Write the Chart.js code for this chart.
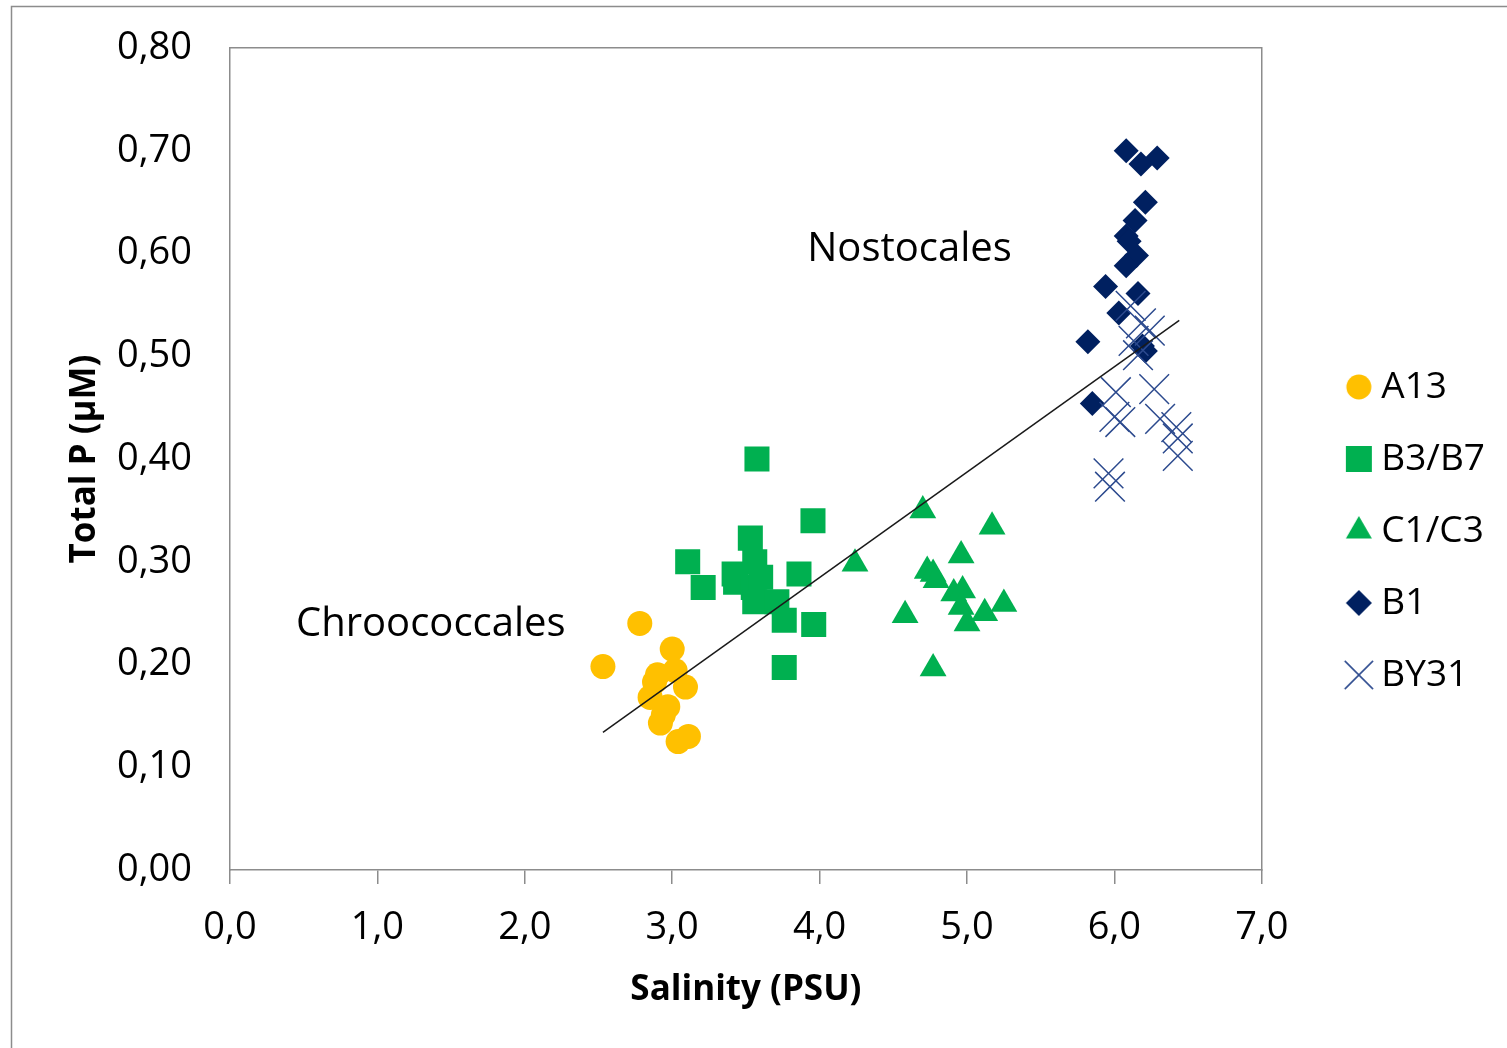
<!DOCTYPE html>
<html>
<head>
<meta charset="utf-8">
<script src="https://cdn.jsdelivr.net/npm/chart.js@4.4.1/dist/chart.umd.min.js"></script>
<style>
  html, body { margin: 0; padding: 0; background: #fff; overflow: hidden; }
  #wrap { width: 1507px; height: 1048px; position: relative; }
</style>
</head>
<body>
<div id="wrap"><canvas id="chart"></canvas></div>
<script>
// --- DATA ---
const A13_X = [2.53, 2.78, 3.00, 2.90, 3.02, 3.09, 2.85, 2.97, 2.94, 2.92, 3.04, 3.11, 2.88];
const A13_Y = [0.198, 0.240, 0.215, 0.190, 0.194, 0.178, 0.168, 0.159, 0.151, 0.143, 0.125, 0.130, 0.183];

const B37_X = [3.575, 3.955, 3.53, 3.105, 3.56, 3.21, 3.42, 3.43, 3.86, 3.55, 3.56, 3.71, 3.76, 3.96, 3.76, 3.60];
const B37_Y = [0.400, 0.340, 0.323, 0.300, 0.300, 0.275, 0.288, 0.280, 0.288, 0.275, 0.261, 0.261, 0.243, 0.239, 0.197, 0.285];

const C13_X = [4.70, 5.17, 4.24, 4.96, 4.73, 4.77, 4.79, 4.91, 4.97, 4.96, 5.25, 5.12, 4.58, 5.00, 4.77];
const C13_Y = [0.350, 0.334, 0.298, 0.306, 0.291, 0.288, 0.282, 0.269, 0.272, 0.256, 0.259, 0.250, 0.248, 0.240, 0.196];

const B1_X = [6.08, 6.29, 6.18, 6.21, 6.14, 6.08, 6.10, 6.15, 6.08, 5.94, 6.16, 6.03, 5.82, 6.19, 5.85, 6.21];
const B1_Y = [0.700, 0.693, 0.687, 0.650, 0.632, 0.617, 0.612, 0.598, 0.588, 0.568, 0.561, 0.542, 0.514, 0.510, 0.454, 0.505];

const BY31_X = [6.11, 6.18, 6.24, 6.13, 6.16, 6.27, 6.01, 6.00, 6.04, 6.31, 6.42, 6.43, 5.96, 5.97, 6.43];
const BY31_Y = [0.549, 0.532, 0.525, 0.515, 0.501, 0.468, 0.465, 0.441, 0.436, 0.439, 0.431, 0.403, 0.386, 0.373, 0.420];

const TREND_X = [2.53, 6.44];
const TREND_Y = [0.134, 0.535];

const SERIES_NAMES = ['A13', 'B3/B7', 'C1/C3', 'B1', 'BY31'];

const GROUP_LABELS = ['Nostocales', 'Chroococcales'];
const GROUP_X = [4.61, 1.362];
const GROUP_Y = [0.604, 0.239];

const X_TITLE = 'Salinity (PSU)';
const Y_TITLE = 'Total P (\u00b5M)';

// --- STYLE ---
const FRAME = '#8c8c8c';
const FONT = "'Open Sans', sans-serif";
const MARKERS = [
    { style: 'circle',   r: 12.5, legendR: 12.5, fill: '#FFC000', line: 0 },
    { style: 'rect',     r: 17.7, legendR: 18.4, fill: '#00B050', line: 0 },
    { style: 'triangle', r: 15.5, legendR: 15,   fill: '#00B050', line: 0 },
    { style: 'rectRot',  r: 12.5, legendR: 13,   fill: '#002060', line: 0 },
    { style: 'crossRot', r: 21,   legendR: 20,   fill: '#2c4a8e', line: 1.5 }
];

Chart.defaults.font.family = FONT;
Chart.defaults.color = '#000';

const pts = (xs, ys) => xs.map((x, i) => ({ x: x, y: ys[i] }));

// legend icons drawn with Chart.js' own point renderer, one size per series
function legendIcon(m) {
    const c = document.createElement('canvas');
    c.width = c.height = 44;
    const g = c.getContext('2d');
    g.fillStyle = m.fill;
    g.strokeStyle = m.fill;
    g.lineWidth = m.line;
    Chart.helpers.drawPoint(g, { pointStyle: m.style, radius: m.legendR, rotation: 0, borderWidth: m.line }, 22, 22);
    return c;
}
const LEGEND_ICONS = MARKERS.map(legendIcon);

const extras = {
    id: 'extras',
    afterDatasetsDraw(chart) {
        const { ctx, scales: { x, y } } = chart;
        ctx.save();
        ctx.font = "40px " + FONT;
        ctx.fillStyle = '#000';
        ctx.textAlign = 'center';
        ctx.textBaseline = 'middle';
        GROUP_LABELS.forEach((t, i) => {
            ctx.fillText(t, x.getPixelForValue(GROUP_X[i]), y.getPixelForValue(GROUP_Y[i]));
        });
        ctx.restore();
    },
    afterDraw(chart) {
        const ctx = chart.ctx;
        ctx.save();
        ctx.strokeStyle = FRAME;
        ctx.lineWidth = 1.5;
        ctx.strokeRect(11.5, 6.5, chart.width, chart.height);
        ctx.restore();
    }
};

const seriesX = [A13_X, B37_X, C13_X, B1_X, BY31_X];
const seriesY = [A13_Y, B37_Y, C13_Y, B1_Y, BY31_Y];

const datasets = SERIES_NAMES.map((name, i) => ({
    label: name,
    data: pts(seriesX[i], seriesY[i]),
    pointStyle: MARKERS[i].style,
    pointRadius: MARKERS[i].r,
    backgroundColor: MARKERS[i].fill,
    borderColor: MARKERS[i].fill,
    borderWidth: MARKERS[i].line,
    order: 5 - i
}));
datasets.push({
    label: '', data: pts(TREND_X, TREND_Y), showLine: true, pointRadius: 0,
    borderColor: '#1a1a1a', borderWidth: 1.5, order: 0
});

new Chart(document.getElementById('chart'), {
    type: 'scatter',
    data: { datasets: datasets },
    options: {
        responsive: true,
        maintainAspectRatio: false,
        animation: false,
        events: [],
        layout: { padding: { left: 0, top: 0, bottom: 0, right: 12 } },
        plugins: {
            tooltip: { enabled: false },
            legend: {
                position: 'right',
                fullSize: false,
                title: { display: true, text: '', font: { size: 10, lineHeight: 1 }, padding: { top: 134, bottom: 0 } },
                labels: {
                    usePointStyle: true,
                    boxWidth: 8,
                    boxHeight: 19,
                    padding: 35,
                    color: '#000',
                    font: { size: 37 },
                    generateLabels(chart) {
                        const items = Chart.defaults.plugins.legend.labels.generateLabels(chart);
                        return items
                            .filter(it => it.text !== '')
                            .sort((a, b) => a.datasetIndex - b.datasetIndex)
                            .map(it => Object.assign(it, { pointStyle: LEGEND_ICONS[it.datasetIndex] }));
                    }
                }
            }
        },
        scales: {
            x: {
                type: 'linear', position: 'bottom', min: 0, max: 7,
                ticks: { stepSize: 1, padding: 21, font: { size: 38 }, color: '#000',
                         callback: v => v.toFixed(1).replace('.', ',') },
                grid: { display: true, drawOnChartArea: false, drawTicks: true, tickLength: 14, color: FRAME, lineWidth: 1.5 },
                border: { display: true, color: FRAME, width: 1.5 },
                title: { display: true, text: X_TITLE, font: { size: 35, weight: 'bold' }, color: '#000',
                         padding: { top: 0, bottom: 37 } },
                afterFit: s => { s.height = 178; }
            },
            y: {
                type: 'linear', position: 'left', min: 0, max: 0.8,
                ticks: { stepSize: 0.1, padding: 0, font: { size: 38 }, color: '#000',
                         callback: v => v.toFixed(2).replace('.', ',') },
                grid: { display: true, drawOnChartArea: false, drawTicks: true, tickLength: 38, color: 'rgba(0,0,0,0)' },
                border: { display: true, color: FRAME, width: 1.5 },
                title: { display: true, text: Y_TITLE, font: { size: 35, weight: 'bold' }, color: '#000',
                         padding: { top: 64, bottom: 0 } },
                afterFit: s => { s.width = 230; }
            },
            xT: {
                type: 'linear', position: 'top', min: 0, max: 7,
                ticks: { display: false },
                grid: { display: false, drawTicks: false },
                border: { display: true, color: FRAME, width: 1.5 },
                afterFit: s => { s.height = 48; }
            },
            yR: {
                type: 'linear', position: 'right', min: 0, max: 0.8,
                ticks: { display: false },
                grid: { display: false, drawTicks: false },
                border: { display: true, color: FRAME, width: 1.5 },
                afterFit: s => { s.width = 58; }
            }
        }
    },
    plugins: [extras]
});
</script>
</body>
</html>
